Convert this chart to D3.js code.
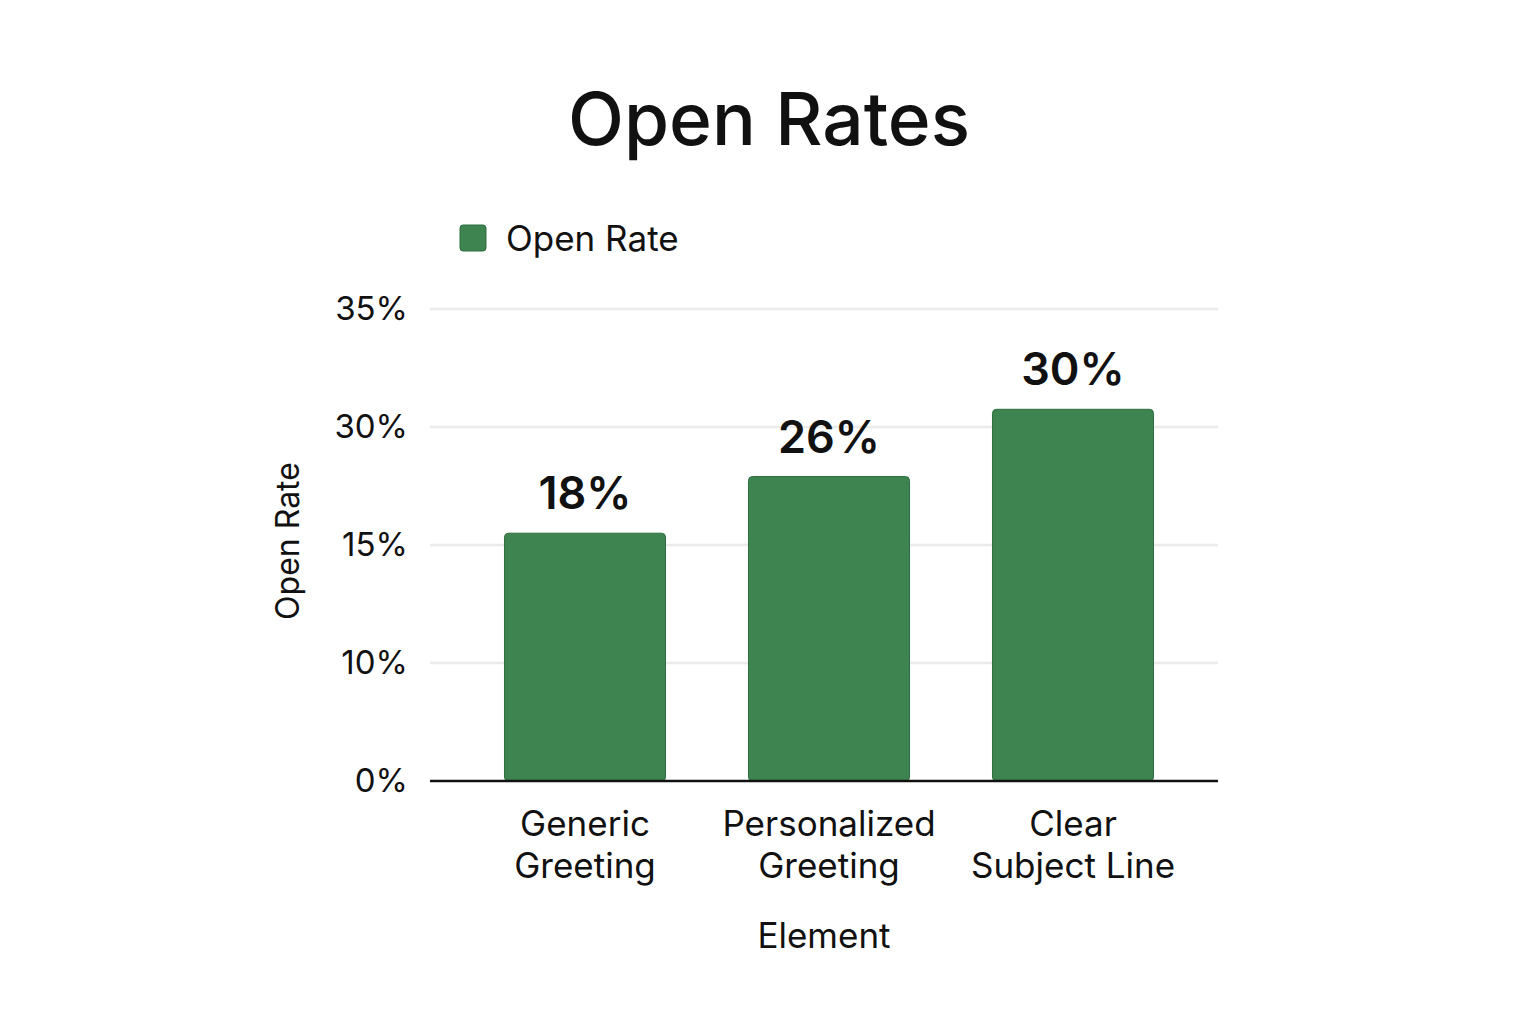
<!DOCTYPE html>
<html>
<head>
<meta charset="utf-8">
<script src="https://cdn.jsdelivr.net/npm/d3@7"></script>
<style>
  body { margin: 0; background: #fff; }
  text { font-family: Inter, "Noto Sans", sans-serif; fill: #111; }
</style>
</head>
<body>
<section></section>
<script>
const categories = [["Generic", "Greeting"], ["Personalized", "Greeting"], ["Clear", "Subject Line"]];
const values = [18, 26, 30];
// bar heights as drawn, measured in gridline steps (the axis labels are not evenly valued)
const barSteps = [2.1, 2.58, 3.15];
const tickLabels = ["0%", "10%", "15%", "30%", "35%"];

const w = 1536;
const h = 1024;
const left = 430;
const right = 1218;

const svg = d3.select("section").append("svg").attr("width", w).attr("height", h);

const x = d3.scaleBand()
  .domain(categories.map((d, i) => i))
  .range([463, 1195])
  .paddingInner(0.34)
  .paddingOuter(0.17);

const y = d3.scaleLinear()
  .domain([0, tickLabels.length - 1])
  .range([781, 309]);

svg.append("text")
  .attr("x", 769)
  .attr("y", 145)
  .attr("text-anchor", "middle")
  .attr("font-size", 73)
  .attr("font-weight", 500)
  .text("Open Rates");

// legend
svg.append("rect")
  .attr("x", 460).attr("y", 225)
  .attr("width", 26).attr("height", 26)
  .attr("rx", 3)
  .attr("fill", "#3d8450")
  .attr("stroke", "#2f6e40");
svg.append("text")
  .attr("x", 506).attr("y", 251)
  .attr("font-size", 35)
  .text("Open Rate");

// gridlines
svg.selectAll(".grid")
  .data(tickLabels.slice(1))
  .enter()
  .append("line")
  .attr("x1", left).attr("x2", right)
  .attr("y1", (d, i) => y(i + 1)).attr("y2", (d, i) => y(i + 1))
  .attr("stroke", "#ebebeb")
  .attr("stroke-width", 2.5);

const yAxis = svg.append("g")
  .attr("transform", `translate(${left},0)`)
  .call(d3.axisLeft(y).tickValues(d3.range(tickLabels.length))
    .tickFormat(i => tickLabels[i]).tickSize(0).tickPadding(22));
yAxis.select(".domain").remove();
yAxis.selectAll("text").attr("font-size", 33).attr("font-family", "Inter, sans-serif").attr("fill", "#111");

svg.selectAll(".bar")
  .data(barSteps)
  .enter()
  .append("rect")
  .attr("x", (d, i) => x(i))
  .attr("y", d => y(d))
  .attr("width", x.bandwidth())
  .attr("height", d => y(0) - y(d))
  .attr("rx", 4)
  .attr("fill", "#3d8450")
  .attr("stroke", "#2f6e40")
  .attr("stroke-width", 1);

svg.selectAll(".val")
  .data(values)
  .enter()
  .append("text")
  .attr("x", (d, i) => x(i) + x.bandwidth() / 2)
  .attr("y", (d, i) => y(barSteps[i]) - 24)
  .attr("text-anchor", "middle")
  .attr("font-size", 45)
  .attr("font-weight", 600)
  .text(d => `${d}%`);

// baseline
svg.append("line")
  .attr("x1", left).attr("x2", right)
  .attr("y1", y(0)).attr("y2", y(0))
  .attr("stroke", "#111")
  .attr("stroke-width", 2.5);

const xl = svg.selectAll(".xl")
  .data(categories)
  .enter()
  .append("text")
  .attr("text-anchor", "middle")
  .attr("font-size", 35);
xl.each(function (d, i) {
  d3.select(this).selectAll("tspan")
    .data(d)
    .enter()
    .append("tspan")
    .attr("x", x(i) + x.bandwidth() / 2)
    .attr("y", (t, j) => 836 + j * 42)
    .text(t => t);
});

svg.append("text")
  .attr("x", 824).attr("y", 948)
  .attr("text-anchor", "middle")
  .attr("font-size", 35)
  .text("Element");

svg.append("text")
  .attr("text-anchor", "middle")
  .attr("transform", "translate(299,541) rotate(-90)")
  .attr("font-size", 32)
  .text("Open Rate");
</script>
</body>
</html>
